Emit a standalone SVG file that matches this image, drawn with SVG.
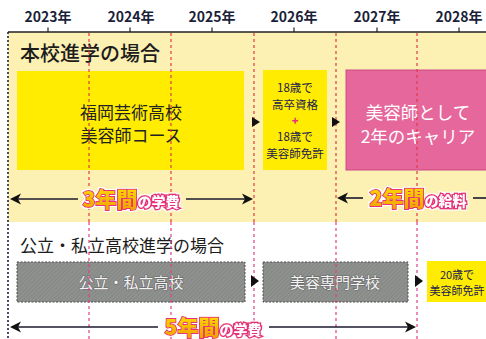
<svg xmlns="http://www.w3.org/2000/svg" width="486" height="339" viewBox="0 0 486 339">
<defs>
<style>
.yr{font-family:"Noto Sans CJK JP","Noto Sans",sans-serif;font-size:14px;font-weight:700;fill:#1b1f3a;text-anchor:middle}
.ttl{font-family:"Noto Sans CJK JP",sans-serif;fill:#1c1c1c}
.box{font-family:"Noto Sans CJK JP",sans-serif;text-anchor:middle}
.yel{fill:#ffec00}
.gray{fill:url(#hatch);stroke:#4a4a4a;stroke-width:1;stroke-dasharray:2 1.5}
.gtxt{font-family:"Noto Sans CJK JP",sans-serif;font-size:15px;fill:#f4f4f4;stroke:#6a6a6a;stroke-width:1.2;paint-order:stroke;text-anchor:middle}
.grid{stroke-width:1.2;stroke-dasharray:3 3;fill:none}
.ln{stroke:#1a1a2e;stroke-width:1.6;fill:none}
.head{fill:#111}
.big{font-family:"Noto Sans CJK JP",sans-serif;font-weight:900;text-anchor:middle;filter:url(#wout)}
.b1{font-size:21px;fill:url(#gold);stroke:#e6337a;stroke-width:2;paint-order:stroke}
.b2{font-size:14px;fill:#fff;stroke:#e6337a;stroke-width:3;paint-order:stroke}
</style>
<linearGradient id="gold" x1="0" y1="0" x2="0" y2="1">
<stop offset="0" stop-color="#ffe600"/>
<stop offset="1" stop-color="#f39a00"/>
</linearGradient>
<pattern id="hatch" width="3" height="3" patternUnits="userSpaceOnUse" patternTransform="rotate(45)">
<rect width="3" height="3" fill="#8f918f"/>
<line x1="0" y1="0" x2="0" y2="3" stroke="#7d7f7d" stroke-width="1"/>
</pattern>
<filter id="wout" x="-10%" y="-20%" width="120%" height="140%">
<feMorphology in="SourceAlpha" operator="dilate" radius="1.2" result="d"/>
<feFlood flood-color="#ffffff"/>
<feComposite in2="d" operator="in" result="w"/>
<feMerge><feMergeNode in="w"/><feMergeNode in="SourceGraphic"/></feMerge>
</filter>
</defs>

<rect x="0" y="0" width="486" height="339" fill="#ffffff"/>
<rect x="8" y="32" width="478" height="190" fill="#fdf0b3"/>

<g id="axis">
<text class="yr" x="48" y="22">2023年</text>
<text class="yr" x="131" y="22">2024年</text>
<text class="yr" x="212" y="22">2025年</text>
<text class="yr" x="294" y="22">2026年</text>
<text class="yr" x="377" y="22">2027年</text>
<text class="yr" x="459" y="22">2028年</text>
<line x1="8" y1="32" x2="486" y2="32" stroke="#222" stroke-width="1.3"/>
<path d="M48 27.5V32M130 27.5V32M212 27.5V32M294 27.5V32M377 27.5V32M459 27.5V32" stroke="#222" stroke-width="1.2"/>
</g>

<g id="title-honkou">
<text class="ttl" x="20" y="61" font-size="20" font-weight="500">本校進学の場合</text>
</g>

<g id="node-fukuoka">
<rect class="yel" x="17" y="71" width="227" height="99"/>
<text class="box" font-size="17" fill="#222"><tspan x="131" y="119">福岡芸術高校</tspan><tspan x="131" y="142">美容師コース</tspan></text>
</g>

<g id="node-qualification">
<rect class="yel" x="263" y="70" width="64" height="100"/>
<text class="box" font-size="11.5" fill="#1b2050"><tspan x="295" y="92">18歳で</tspan><tspan x="295" y="108.5">高卒資格</tspan><tspan x="295" y="124.5" font-size="11" font-weight="900" fill="#e6337a">+</tspan><tspan x="295" y="141">18歳で</tspan><tspan x="295" y="157.5">美容師免許</tspan></text>
</g>

<g id="node-career">
<rect x="346" y="70" width="142" height="100" fill="#e6679c" stroke="#c94a82" stroke-width="1"/>
<text class="box" font-size="17.5" fill="#ffffff"><tspan x="418" y="119">美容師として</tspan><tspan x="418" y="143">2年のキャリア</tspan></text>
</g>

<g id="title-public">
<text class="ttl" x="20" y="252" font-size="17">公立・私立高校進学の場合</text>
</g>

<g id="node-public">
<rect class="gray" x="17" y="262" width="228" height="40"/>
<text class="gtxt" x="131" y="288">公立・私立高校</text>
</g>

<g id="node-senmon">
<rect class="gray" x="263" y="262" width="145" height="40"/>
<text class="gtxt" x="335" y="288">美容専門学校</text>
</g>

<g id="node-license20">
<rect class="yel" x="427" y="261" width="62" height="41"/>
<text class="box" font-size="11" fill="#1b2050"><tspan x="457" y="279">20歳で</tspan><tspan x="457" y="295">美容師免許</tspan></text>
</g>

<g id="gridlines">
<line x1="8" y1="32" x2="8" y2="339" stroke="#1a2050" stroke-width="1.6" stroke-dasharray="2 2"/>
<path class="grid" stroke="#e03a4a" d="M89 33V222M171 33V222M254 33V222M336 33V222M417 33V222"/>
<path class="grid" stroke="#e0408a" d="M89 222V339M171 222V339M254 222V339M336 222V339M417 222V339"/>
</g>

<g id="connectors">
<path class="head" d="M252 117L260 122L252 127Z"/>
<path class="head" d="M332 117L340 122L332 127Z"/>
<path class="head" d="M251 275L259 281L251 287Z"/>
<path class="head" d="M415 275L423 281L415 287Z"/>

<line class="ln" x1="16" y1="199" x2="78" y2="199"/>
<line class="ln" x1="186" y1="199" x2="246" y2="199"/>
<path class="head" d="M10 199L21 193.5L18 199L21 204.5Z"/>
<path class="head" d="M253 199L242 193.5L245 199L242 204.5Z"/>

<line class="ln" x1="343" y1="198" x2="363" y2="198"/>
<line class="ln" x1="473" y1="198" x2="486" y2="198"/>
<path class="head" d="M337 198L348 192.5L345 198L348 203.5Z"/>

<line class="ln" x1="16" y1="327" x2="158" y2="327"/>
<line class="ln" x1="269" y1="327" x2="409" y2="327"/>
<path class="head" d="M10 327L21 321.5L18 327L21 332.5Z"/>
<path class="head" d="M416 327L405 321.5L408 327L405 332.5Z"/>
</g>

<g id="labels">
<text class="big" x="131" y="206.5"><tspan class="b1">3年間</tspan><tspan class="b2">の学費</tspan></text>
<text class="big" x="418" y="205.5"><tspan class="b1">2年間</tspan><tspan class="b2">の給料</tspan></text>
<text class="big" x="213" y="334.5"><tspan class="b1">5年間</tspan><tspan class="b2">の学費</tspan></text>
</g>
</svg>
